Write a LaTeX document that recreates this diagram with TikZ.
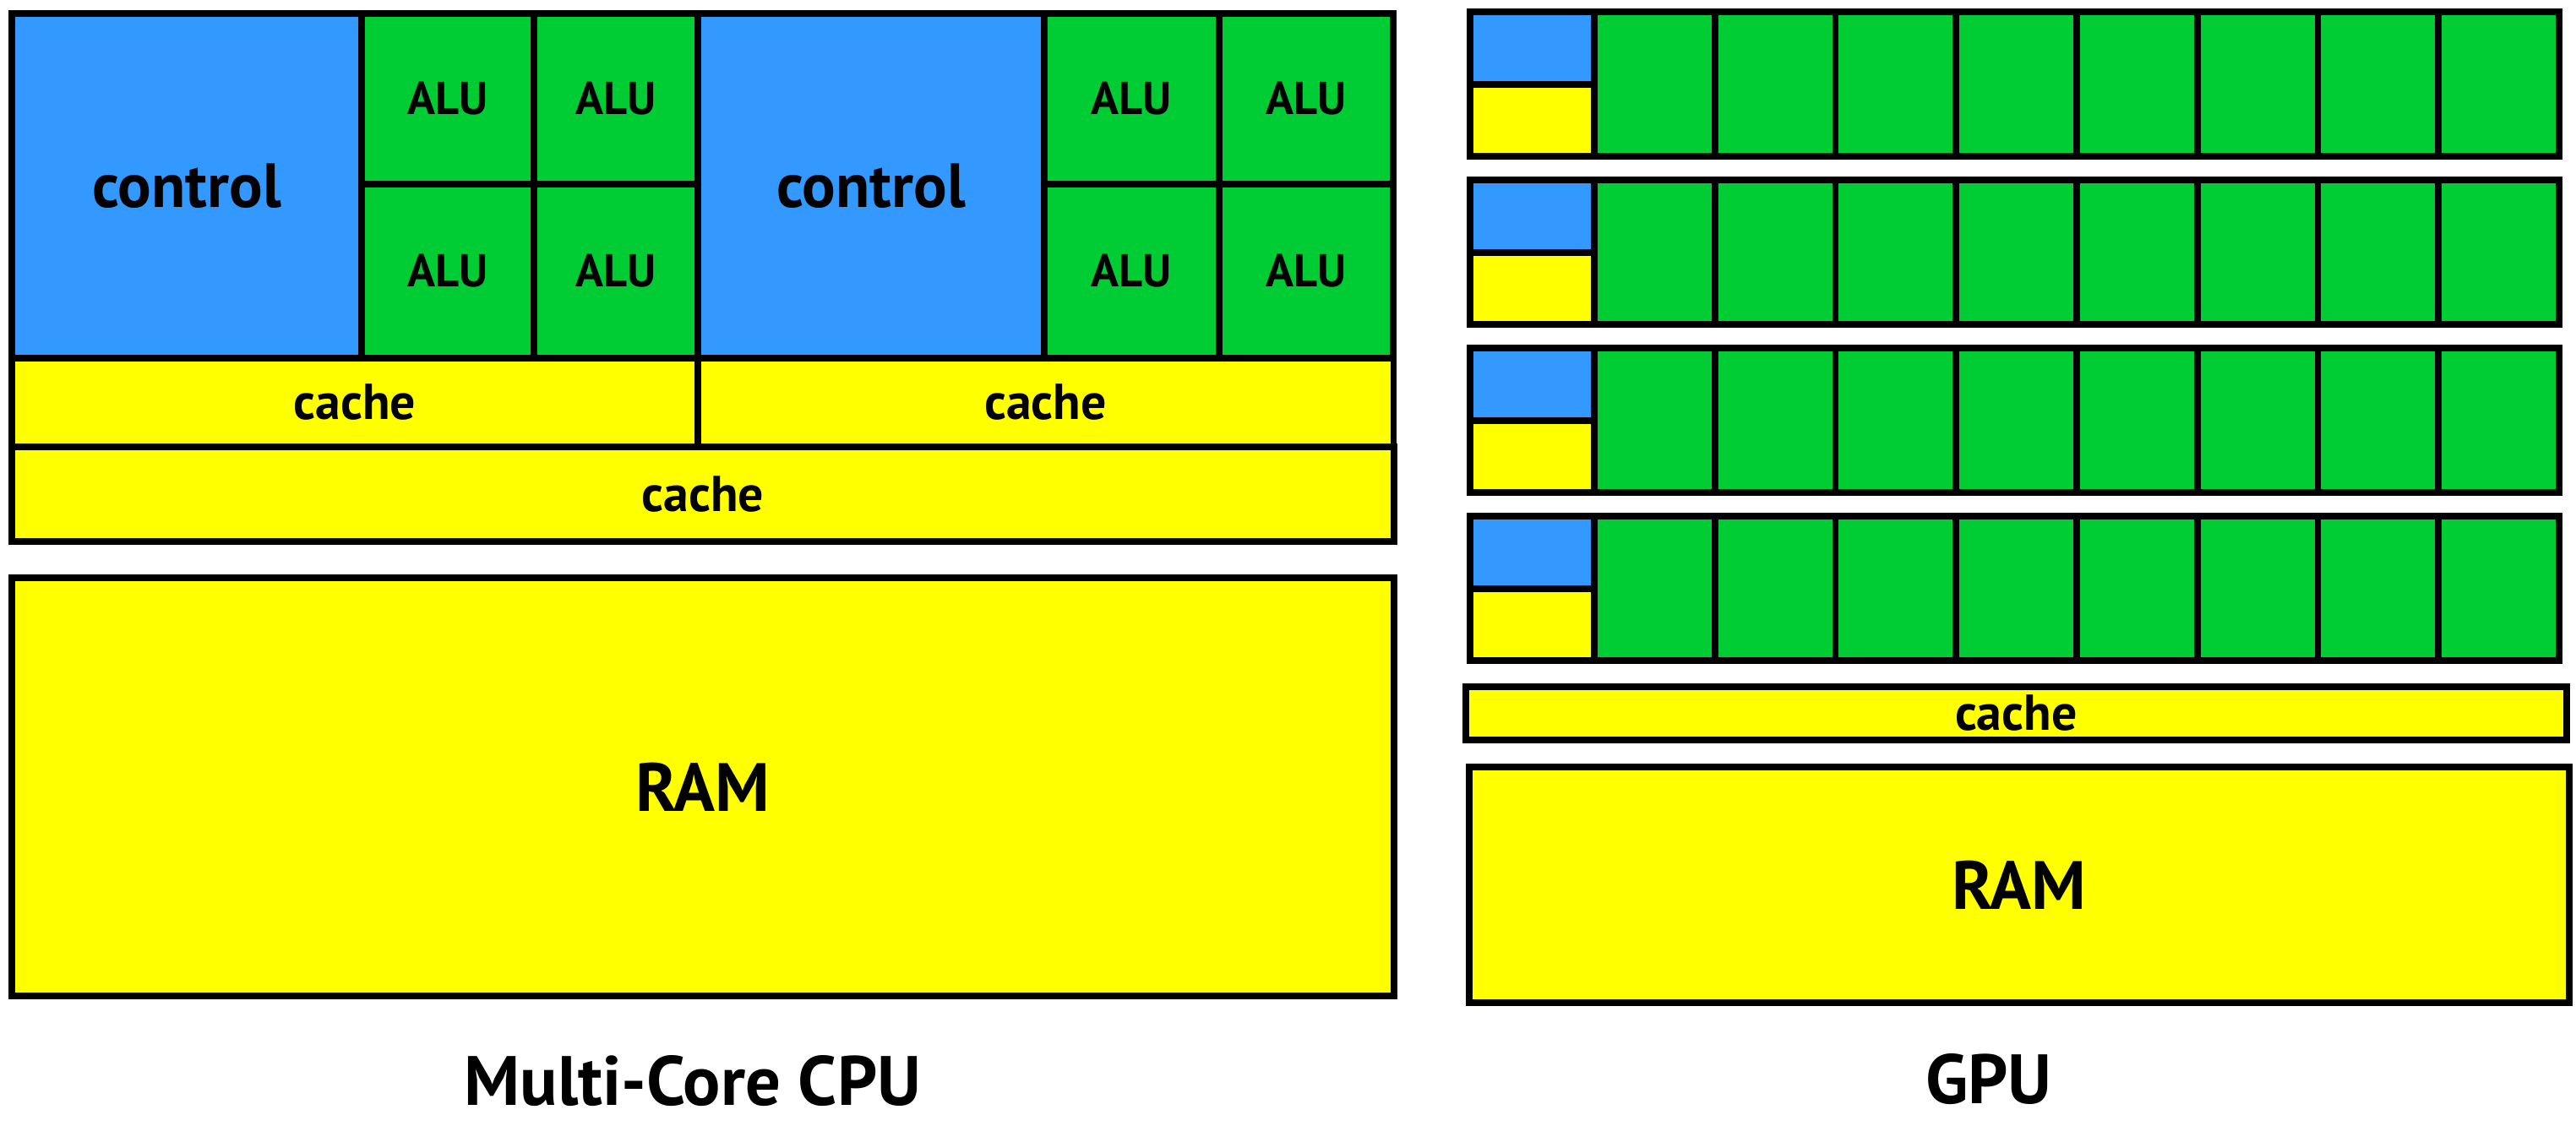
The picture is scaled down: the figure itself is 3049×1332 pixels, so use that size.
\documentclass[tikz,border=0pt]{standalone}
\usepackage{fontspec}
\setmainfont{PT Sans}
\definecolor{ctrlblue}{RGB}{51,153,255}
\definecolor{alugreen}{RGB}{0,204,51}
\definecolor{memyellow}{RGB}{255,255,0}
\tikzset{
  unit/.style={draw=black, line width=2.2pt, inner sep=0pt, anchor=north west},
  sz/.style 2 args={minimum width=#1, minimum height=#2},
  ctrl/.style={unit, fill=ctrlblue, font=\bfseries\fontsize{21}{25}\selectfont},
  alu/.style={unit, fill=alugreen, font=\bfseries\fontsize{15.5}{18}\selectfont},
  mem/.style={unit, fill=memyellow, font=\bfseries\fontsize{17}{20}\selectfont},
  ram/.style={unit, fill=memyellow, font=\bfseries\fontsize{23}{27}\selectfont},
  caption/.style={inner sep=0pt, font=\bfseries\fontsize{23.5}{28}\selectfont}
}
\begin{document}
\begin{tikzpicture}[x=0.01cm, y=-0.01cm]
   \useasboundingbox (0,0) rectangle (3049,1332);
   % multi-core cpu
   \node [ctrl, sz={4.14cm}{4.08cm}] (ctrlA) at (10,12) {control};
   \node [alu, sz={2.04cm}{2.02cm}] (aluA1) at (424,12) {ALU};
   \node [alu, sz={1.94cm}{2.02cm}] (aluA2) at (628,12) {ALU};
   \node [alu, sz={2.04cm}{2.06cm}] (aluA3) at (424,214) {ALU};
   \node [alu, sz={1.94cm}{2.06cm}] (aluA4) at (628,214) {ALU};
   \node [ctrl, sz={4.10cm}{4.08cm}] (ctrlB) at (822,12) {control};
   \node [alu, sz={2.07cm}{2.02cm}] (aluB1) at (1232,12) {ALU};
   \node [alu, sz={2.06cm}{2.02cm}] (aluB2) at (1439,12) {ALU};
   \node [alu, sz={2.07cm}{2.06cm}] (aluB3) at (1232,214) {ALU};
   \node [alu, sz={2.06cm}{2.06cm}] (aluB4) at (1439,214) {ALU};
   \node [mem, sz={8.12cm}{1.05cm}] (cacheA) at (10,420) {cache};
   \node [mem, sz={8.23cm}{1.05cm}] (cacheB) at (822,420) {cache};
   \node [mem, sz={16.35cm}{1.12cm}] (cacheCPU) at (10,525) {cache};
   \node [ram, sz={16.35cm}{4.95cm}] (ramCPU) at (10,680) {RAM};
   \node [caption] (cpu) at (820,1280) {Multi-Core CPU};
   % gpu
   \foreach \r in {0,...,3}{
     \pgfmathsetmacro\t{10+199*\r}
     \node [unit, fill=ctrlblue, sz={1.47cm}{0.86cm}] (gctrl-\r) at (1736,\t) {};
     \node [mem, sz={1.47cm}{0.85cm}] (gcache-\r) at (1736,\t+86) {};
     \foreach \c in {0,...,7}
       \node [alu, sz={1.4275cm}{1.71cm}] (galu-\r-\c) at (1883+142.75*\c,\t) {};
   }
   \node [mem, sz={13.02cm}{0.63cm}] (cacheGPU) at (1731,809) {cache};
   \node [ram, sz={13.01cm}{2.79cm}] (ramGPU) at (1735,904) {RAM};
   \node [caption] (gpu) at (2354,1278) {GPU};
\end{tikzpicture}
\end{document}
